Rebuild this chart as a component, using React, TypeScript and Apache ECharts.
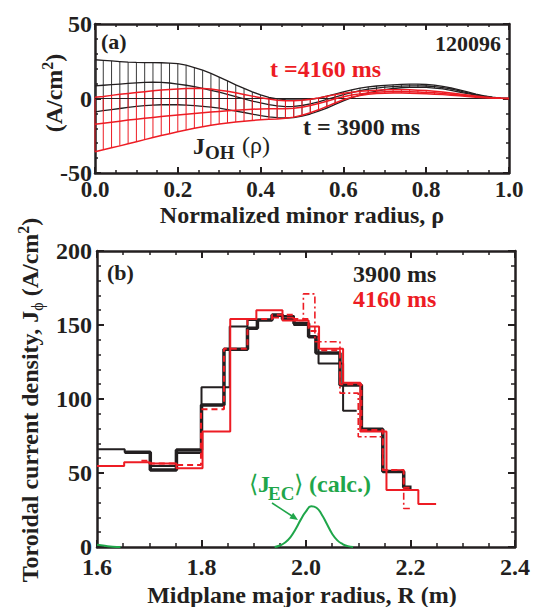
import React, { useEffect, useRef } from "react";
import * as echarts from "echarts";

// ---------- panel (a): ohmic current profile J_OH(rho) ----------
const RHO = [0, 0.02, 0.04, 0.06, 0.08, 0.1, 0.12, 0.14, 0.16, 0.18, 0.2, 0.22, 0.24, 0.26, 0.28, 0.3, 0.32, 0.34, 0.36, 0.38, 0.4, 0.42, 0.44, 0.46, 0.48, 0.5, 0.52, 0.54, 0.56, 0.58, 0.6, 0.62, 0.64, 0.66, 0.68, 0.7, 0.72, 0.74, 0.76, 0.78, 0.8, 0.82, 0.84, 0.86, 0.88, 0.9, 0.92, 0.94, 0.96, 0.98, 1];

const OH_3900_HIGH = [26, 25.6, 25.2, 24.8, 24.4, 24.2, 24.1, 24.1, 24, 23.8, 23.4, 22.4, 20.8, 19, 16.8, 14.4, 11.8, 9.2, 6.8, 4.4, 2.4, 0.8, -0.2, -0.8, -1, -0.9, -0.5, 0.3, 1.6, 3, 4.4, 5.8, 7, 7.8, 8.4, 8.8, 9.2, 9.5, 9.6, 9.6, 9.4, 9, 8.2, 7.2, 5.8, 4.4, 3, 1.8, 0.9, 0.3, 0];
const OH_3900_MID = [8.5, 8.9, 9.3, 9.7, 10.1, 10.5, 10.8, 10.9, 10.8, 10.4, 9.7, 8.9, 7.9, 6.8, 5.5, 4.2, 2.7, 1.2, -0.3, -1.7, -3, -4.1, -5, -5.4, -5.3, -4.7, -3.6, -2.2, -0.6, 1, 2.6, 4, 5.3, 6.3, 7, 7.6, 8, 8.3, 8.5, 8.5, 8.4, 8, 7.3, 6.4, 5.1, 3.8, 2.6, 1.5, 0.7, 0.2, 0];
const OH_3900_LOW = [-9, -8.2, -7.4, -6.7, -6, -5.3, -4.8, -4.4, -4.2, -4.1, -4.2, -4.4, -4.8, -5.3, -5.8, -6.5, -7.4, -8.4, -9.4, -10.5, -11.5, -12.3, -12.9, -13.1, -12.8, -11.8, -10.4, -8.5, -6.4, -4, -1.6, 0.5, 2.3, 3.8, 5, 6, 6.7, 7.2, 7.5, 7.5, 7.4, 7, 6.4, 5.5, 4.3, 3.2, 2.2, 1.3, 0.6, 0.2, 0];

const OH_4160_HIGH = [0.8, 1.4, 2.1, 2.8, 3.4, 4, 4.6, 5.2, 5.7, 6.1, 6.4, 6.7, 6.8, 6.7, 6.3, 5.6, 4.8, 3.8, 2.7, 1.6, 0.5, -0.4, -1.1, -1.5, -1.5, -1.1, -0.5, 0.4, 1.5, 2.6, 3.5, 4.2, 4.8, 5.2, 5.6, 5.8, 5.9, 5.9, 5.8, 5.6, 5.3, 4.9, 4.3, 3.7, 3, 2.3, 1.6, 1, 0.5, 0.2, 0];
const OH_4160_MID = [-17.3, -16.6, -15.9, -15.2, -14.5, -13.9, -13.3, -12.7, -12.1, -11.5, -11, -10.5, -10, -9.5, -9.1, -8.7, -8.3, -7.9, -7.5, -7.2, -7, -6.9, -6.9, -6.9, -6.6, -5.8, -4.7, -3.3, -1.8, -0.2, 1.2, 2.3, 3.1, 3.7, 4.2, 4.5, 4.6, 4.6, 4.5, 4.3, 4.1, 3.8, 3.4, 2.9, 2.4, 1.8, 1.3, 0.8, 0.4, 0.1, 0];
const OH_4160_LOW = [-35.7, -34.4, -33.1, -31.8, -30.4, -29, -27.6, -26.2, -24.9, -23.6, -22.3, -21.1, -20, -19, -18, -17.1, -16.4, -15.8, -15.2, -14.7, -14.3, -14, -13.7, -13.3, -12.5, -11.2, -9.6, -7.6, -5.4, -3, -0.8, 0.8, 2, 2.8, 3.3, 3.6, 3.7, 3.7, 3.6, 3.4, 3.2, 2.9, 2.6, 2.2, 1.8, 1.3, 0.9, 0.5, 0.3, 0.1, 0];

const RHO_TICKS = ["0.0", "0.2", "0.4", "0.6", "0.8", "1.0"];
const JOH_TICKS = ["-50", "0", "50"];

// ---------- panel (b): toroidal current density vs major radius ----------
// 3900 ms, thick solid
const J3900_A_EDGES = [1.653, 1.702, 1.752, 1.8, 1.843, 1.888, 1.907, 1.935, 1.955, 1.977, 2.005, 2.019, 2.065, 2.106, 2.147, 2.187, 2.202];
const J3900_A_VALUES = [64, 52, 65.5, 96, 133.6, 147.8, 153.4, 156.8, 154, 151, 142, 131, 109.5, 79.5, 51, 40.3];
// 3900 ms, thin solid
const J3900_B_EDGES = [1.6, 1.653, 1.702, 1.752, 1.8, 1.854, 1.888, 1.935, 1.977, 2.005, 2.024, 2.071, 2.097];
const J3900_B_VALUES = [66, 64, 54.7, 63.5, 108, 149, 153.4, 156, 150, 142, 124, 92];
// 4160 ms, thin solid
const J4160_A_EDGES = [1.6, 1.652, 1.7, 1.752, 1.802, 1.855, 1.905, 1.955, 2.005, 2.025, 2.071, 2.104, 2.154, 2.215, 2.249];
const J4160_A_VALUES = [54.7, 57.2, 56.5, 53.2, 78, 154, 160, 153, 149, 134, 111, 78, 38.5, 29];
// 4160 ms, dashed
const J4160_B_EDGES = [1.685, 1.702, 1.752, 1.799, 1.843, 1.888, 1.935, 1.977, 2.005, 2.024, 2.065, 2.106, 2.147, 2.187, 2.202];
const J4160_B_VALUES = [58.3, 56.5, 55.4, 93, 134, 154, 157, 154, 146, 133, 110, 79, 52, 40];
// 4160 ms, dash-dot
const J4160_C_EDGES = [1.935, 1.975, 1.995, 2.017, 2.065, 2.1, 2.147, 2.187, 2.199];
const J4160_C_VALUES = [155, 153, 171, 138.7, 104, 74.5, 52, 26];

// calculated ECCD profile <J_EC>
const JEC_R = [1.6, 1.615, 1.63, 1.645, 1.94, 1.95, 1.96, 1.97, 1.98, 1.99, 2.0, 2.01, 2.02, 2.03, 2.04, 2.05, 2.06, 2.07, 2.08, 2.09];
const JEC_VALUES = [1.5, 0.8, 0.2, 0, 0, 1, 3, 6.5, 12, 18.5, 24, 27.5, 26.5, 22, 15.5, 9, 4.5, 2, 0.6, 0];

const R_TICKS = ["1.6", "1.8", "2.0", "2.2", "2.4"];
const JPHI_TICKS = ["0", "50", "100", "150", "200"];

const FAMILY = "Liberation Serif";
const FONT = `'${FAMILY}'`;
const INK = "#231f20";
const RED = "#ed1c24";
const GREEN = "#1fa64a";

function stepPoints(edges: number[], values: number[]) {
  const pts: number[][] = values.map((v, i) => [edges[i], v]);
  pts.push([edges[edges.length - 1], values[values.length - 1]]);
  return pts;
}

function errorBars(lo: number[], hi: number[]) {
  return RHO.map((r, i) => [r, lo[i], hi[i]]);
}

function frameAxis(gridIndex: number, min: number, max: number, interval: number, split: number, labels: string[] | null, position: string, tickLen: number, labelMargin: number, labelSize = 24) {
  return {
    gridIndex,
    type: "value",
    min,
    max,
    interval,
    position,
    axisLine: { show: true, onZero: false, lineStyle: { color: INK, width: 2.5 } },
    axisTick: { show: true, inside: true, length: tickLen, lineStyle: { color: INK, width: 2 } },
    minorTick: { show: true, splitNumber: split, length: Math.round(tickLen * 0.55), lineStyle: { color: INK, width: 1.5 } },
    splitLine: { show: false },
    minorSplitLine: { show: false },
    axisLabel: labels
      ? {
          show: true,
          margin: labelMargin,
          color: INK,
          fontFamily: FAMILY,
          fontWeight: "bold",
          fontSize: labelSize,
          formatter: (_v: number, idx: number) => labels[idx] ?? "",
        }
      : { show: false },
  };
}

function text(x: number, y: number, str: string, size: number, color = INK, weight = "bold", align = "left") {
  return {
    type: "text",
    x,
    y,
    silent: true,
    style: {
      text: str,
      fill: color,
      font: `${weight} ${size}px ${FONT}`,
      align,
      verticalAlign: "middle",
    },
  };
}

function barRenderer(color: string) {
  return (_p: any, api: any) => {
    const a = api.coord([api.value(0), api.value(1)]);
    const b = api.coord([api.value(0), api.value(2)]);
    return {
      type: "line",
      shape: { x1: a[0], y1: a[1], x2: b[0], y2: b[1] },
      style: { stroke: color, lineWidth: 1 },
    };
  };
}

export default function App() {
  const ref = useRef<HTMLDivElement>(null);

  useEffect(() => {
    if (!ref.current) return;

    // resolve the serif face before the chart lays out its text
    const ctx = document.createElement("canvas").getContext("2d");
    if (ctx) {
      ["bold", "normal"].forEach((w) => {
        ctx.font = `${w} 24px ${FONT}`;
        ctx.measureText("Normalized minor radius 0.123 ρϕ⟨⟩");
      });
    }

    const chart = echarts.init(ref.current, null, { renderer: "svg" });

    const profile = (arr: number[], color: string, width: number, z: number) => ({
      type: "line",
      xAxisIndex: 0,
      yAxisIndex: 0,
      data: RHO.map((r, i) => [r, arr[i]]),
      showSymbol: false,
      lineStyle: { color, width },
      z,
    });

    const steps = (edges: number[], values: number[], color: string, width: number, type: any, z: number) => ({
      type: "line",
      xAxisIndex: 2,
      yAxisIndex: 2,
      step: "end",
      data: stepPoints(edges, values),
      showSymbol: false,
      lineStyle: { color, width, type },
      z,
    });

    const option: any = {
      animation: false,
      grid: [
        { left: 95, top: 24, width: 414, height: 149 },
        { left: 97, top: 251, width: 421, height: 296 },
      ],
      xAxis: [
        frameAxis(0, 0, 1, 0.2, 4, RHO_TICKS, "bottom", 6, 5, 23),
        frameAxis(0, 0, 1, 0.2, 4, null, "top", 6, 0),
        frameAxis(1, 1.6, 2.4, 0.2, 4, R_TICKS, "bottom", 7, 8),
        frameAxis(1, 1.6, 2.4, 0.2, 4, null, "top", 7, 0),
      ],
      yAxis: [
        frameAxis(0, -50, 50, 50, 5, JOH_TICKS, "left", 6, 3),
        frameAxis(0, -50, 50, 50, 5, null, "right", 6, 0),
        frameAxis(1, 0, 200, 50, 5, JPHI_TICKS, "left", 7, 5),
        frameAxis(1, 0, 200, 50, 5, null, "right", 7, 0),
      ],
      series: [
        // ---- panel (a) ----
        {
          type: "custom",
          xAxisIndex: 0,
          yAxisIndex: 0,
          encode: { x: 0, y: [1, 2] },
          data: errorBars(OH_3900_LOW, OH_3900_HIGH),
          renderItem: barRenderer("#3a3a3a"),
          z: 2,
        },
        profile(OH_3900_HIGH, INK, 1.3, 3),
        profile(OH_3900_MID, INK, 1.3, 3),
        profile(OH_3900_LOW, INK, 1.3, 3),
        {
          type: "custom",
          xAxisIndex: 0,
          yAxisIndex: 0,
          encode: { x: 0, y: [1, 2] },
          data: errorBars(OH_4160_LOW, OH_4160_HIGH),
          renderItem: barRenderer(RED),
          z: 4,
        },
        profile(OH_4160_HIGH, RED, 1.5, 5),
        profile(OH_4160_MID, RED, 1.5, 5),
        profile(OH_4160_LOW, RED, 1.5, 5),
        {
          type: "line",
          xAxisIndex: 0,
          yAxisIndex: 0,
          data: [],
          markLine: {
            silent: true,
            symbol: "none",
            label: { show: false },
            lineStyle: { color: INK, width: 1, type: "solid" },
            data: [{ yAxis: 0 }],
          },
          z: 1,
        },
        // ---- panel (b) ----
        steps(J3900_B_EDGES, J3900_B_VALUES, INK, 2, "solid", 3),
        steps(J3900_A_EDGES, J3900_A_VALUES, INK, 3.5, "solid", 3),
        steps(J4160_A_EDGES, J4160_A_VALUES, RED, 2, "solid", 4),
        steps(J4160_B_EDGES, J4160_B_VALUES, RED, 2, [6, 4], 5),
        steps(J4160_C_EDGES, J4160_C_VALUES, RED, 1.6, [7, 3, 2, 3], 5),
        {
          type: "line",
          xAxisIndex: 2,
          yAxisIndex: 2,
          data: JEC_R.slice(0, 4).map((r, i) => [r, JEC_VALUES[i]]),
          smooth: true,
          showSymbol: false,
          lineStyle: { color: GREEN, width: 2 },
          z: 6,
        },
        {
          type: "line",
          xAxisIndex: 2,
          yAxisIndex: 2,
          data: JEC_R.slice(4).map((r, i) => [r, JEC_VALUES[i + 4]]),
          smooth: true,
          showSymbol: false,
          lineStyle: { color: GREEN, width: 2 },
          z: 6,
        },
      ],
      graphic: [
        // panel (a) annotations
        text(101, 41, "(a)", 22),
        text(501, 43, "120096", 22, INK, "bold", "right"),
        text(270, 69, "t =4160 ms", 24, RED),
        text(303, 127, "t = 3900 ms", 24),
        text(193, 146, "J", 24),
        text(205, 152, "OH", 19),
        text(242, 145, "(ρ)", 24, INK, "normal"),
        // panel (a) axis titles
        text(302, 215, "Normalized minor radius, ρ", 24, INK, "bold", "center"),
        {
          type: "text",
          x: 54,
          y: 93,
          rotation: Math.PI / 2,
          silent: true,
          style: {
            text: "{m|(A/cm}{s|2}{m|)}",
            align: "center",
            verticalAlign: "middle",
            rich: {
              m: { fontFamily: FAMILY, fontWeight: "bold", fontSize: 24, fill: INK, lineHeight: 30, verticalAlign: "middle" },
              s: { fontFamily: FAMILY, fontWeight: "bold", fontSize: 16, fill: INK, lineHeight: 18, verticalAlign: "top" },
            },
          },
        },
        // panel (b) annotations
        text(107, 272, "(b)", 22),
        text(353, 274, "3900 ms", 24),
        text(353, 299, "4160 ms", 24, RED),
        text(249, 484, "⟨", 24, GREEN, "normal"),
        text(258, 484, "J", 24, GREEN),
        text(268, 493, "EC", 19, GREEN),
        text(294, 484, "⟩", 24, GREEN, "normal"),
        text(309, 484, "(calc.)", 24, GREEN),
        {
          type: "line",
          silent: true,
          shape: { x1: 272, y1: 503, x2: 292, y2: 516 },
          style: { stroke: GREEN, lineWidth: 1.5 },
        },
        {
          type: "polygon",
          silent: true,
          shape: { points: [[298, 520], [289.4, 518.6], [293.2, 512.8]] },
          style: { fill: GREEN },
        },
        // panel (b) axis titles
        text(302, 595, "Midplane major radius, R (m)", 24, INK, "bold", "center"),
        {
          type: "text",
          x: 30,
          y: 400,
          rotation: Math.PI / 2,
          silent: true,
          style: {
            text: "{m|Toroidal current density, J}{b|ϕ}{m| (A/cm}{s|2}{m|)}",
            align: "center",
            verticalAlign: "middle",
            rich: {
              m: { fontFamily: FAMILY, fontWeight: "bold", fontSize: 24, fill: INK, lineHeight: 30, verticalAlign: "middle" },
              b: { fontFamily: FAMILY, fontWeight: "normal", fontSize: 16, fill: INK, lineHeight: 18, verticalAlign: "bottom" },
              s: { fontFamily: FAMILY, fontWeight: "bold", fontSize: 16, fill: INK, lineHeight: 18, verticalAlign: "top" },
            },
          },
        },
      ],
    };

    chart.setOption(option);
    return () => chart.dispose();
  }, []);

  return (
    <div
      ref={ref}
      style={{
        position: "fixed",
        left: 0,
        top: 0,
        width: 533,
        height: 607,
        background: "#fff",
        fontFamily: "'Liberation Serif', serif",
      }}
    />
  );
}
